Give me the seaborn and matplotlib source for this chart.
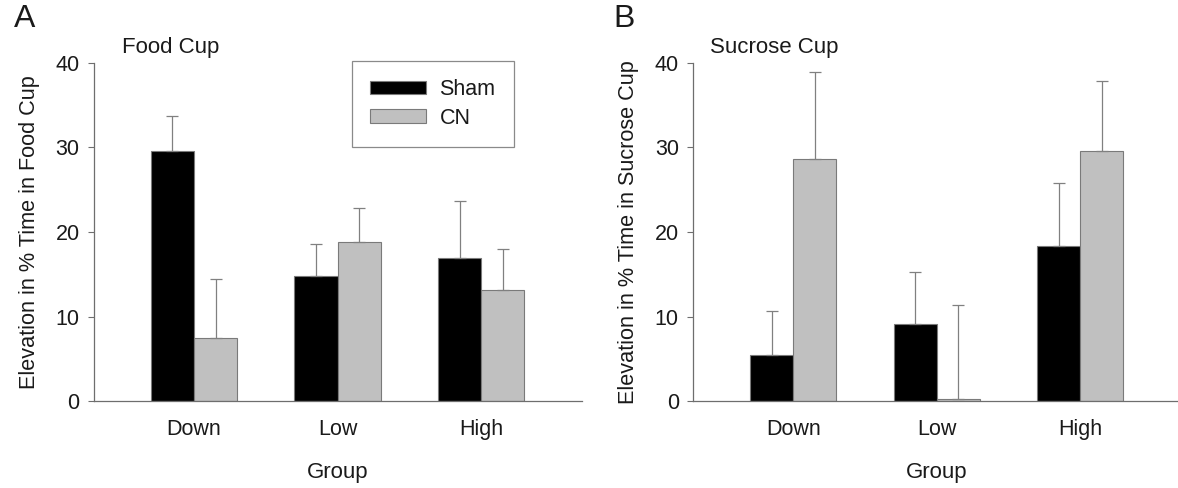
import matplotlib
matplotlib.use("Agg")
import matplotlib.pyplot as plt
import seaborn as sns
import pandas as pd
import numpy as np

# values (mean and upper SEM)
groups = ["Down", "Low", "High"]
conditions = ["Sham", "CN"]

food_sham = [29.6, 14.8, 16.9]
food_cn = [7.5, 18.8, 13.2]
food_sham_err = [4.1, 3.8, 6.8]
food_cn_err = [7.0, 4.1, 4.8]

sucrose_sham = [5.5, 9.1, 18.3]
sucrose_cn = [28.6, 0.3, 29.6]
sucrose_sham_err = [5.2, 6.2, 7.5]
sucrose_cn_err = [10.3, 11.1, 8.3]

bar_colors = {"Sham": "#000000", "CN": "#c0c0c0"}
text_color = "#1a1a1a"
line_color = "#6e6e6e"

sns.set_style("white")
plt.rcParams["font.family"] = ["Liberation Sans", "DejaVu Sans"]
plt.rcParams["text.color"] = text_color
plt.rcParams["axes.labelcolor"] = text_color
plt.rcParams["xtick.color"] = text_color
plt.rcParams["ytick.color"] = text_color


def make_frame(sham, cn, sham_err, cn_err):
    return pd.DataFrame({
        "Group": groups * 2,
        "Condition": ["Sham"] * 3 + ["CN"] * 3,
        "Value": sham + cn,
        "Err": sham_err + cn_err,
    })


def draw_panel(ax, df, ylabel, title, title_x, letter, legend=False):
    sns.barplot(data=df, x="Group", y="Value", hue="Condition", order=groups,
                hue_order=conditions, palette=bar_colors, width=0.6,
                errorbar=None, edgecolor="#7a7a7a", linewidth=0.8,
                legend=legend, ax=ax)

    # upper error bars at the centre of each bar
    for cont, cond in zip(ax.containers, conditions):
        sub = df[df["Condition"] == cond].set_index("Group").loc[groups]
        xs = [p.get_x() + p.get_width() / 2 for p in cont.patches]
        hs = [p.get_height() for p in cont.patches]
        ax.errorbar(xs, hs, yerr=[np.zeros(len(xs)), sub["Err"].values],
                    fmt="none", ecolor="#808080", elinewidth=0.9,
                    capsize=4, capthick=0.9, zorder=1)

    ax.set_xlim(-0.7, 2.7)
    ax.set_ylim(0, 40)
    ax.set_yticks([0, 10, 20, 30, 40])
    ax.set_ylabel(ylabel, fontsize=15.6, labelpad=11)
    ax.set_xlabel("Group", fontsize=16, labelpad=16)
    ax.tick_params(axis="y", length=4, width=0.8, color=line_color,
                   labelsize=15.5, pad=6, left=True)
    ax.tick_params(axis="x", length=0, labelsize=15.5, pad=13)
    sns.despine(ax=ax)
    for s in ["left", "bottom"]:
        ax.spines[s].set_color(line_color)
        ax.spines[s].set_linewidth(0.9)

    ax.text(title_x, 1.015, title, transform=ax.transAxes, fontsize=16,
            ha="left", va="bottom")
    ax.text(-0.163, 1.085, letter, transform=ax.transAxes, fontsize=23,
            ha="left", va="bottom")

    if legend:
        handles, labels = ax.get_legend_handles_labels()
        leg = ax.legend(handles, labels, loc="upper left",
                        bbox_to_anchor=(0.53, 1.006), borderaxespad=0,
                        fontsize=15.5, handlelength=2.6, handleheight=0.6,
                        handletextpad=0.6, labelspacing=0.35, borderpad=0.85,
                        frameon=True, fancybox=False, framealpha=1)
        leg.get_frame().set_edgecolor("#8a8a8a")
        leg.get_frame().set_linewidth(0.9)


fig = plt.figure(figsize=(11.78, 4.88), dpi=100)
ax_a = fig.add_axes([0.0794, 0.178, 0.4143, 0.693])
ax_b = fig.add_axes([0.588, 0.178, 0.4143, 0.693])

draw_panel(ax_a, make_frame(food_sham, food_cn, food_sham_err, food_cn_err),
           "Elevation in % Time in Food Cup", "Food Cup", 0.058, "A", legend=True)
draw_panel(ax_b, make_frame(sucrose_sham, sucrose_cn, sucrose_sham_err, sucrose_cn_err),
           "Elevation in % Time in Sucrose Cup", "Sucrose Cup", 0.036, "B")

fig.savefig("out.png", dpi=100, facecolor="white")
